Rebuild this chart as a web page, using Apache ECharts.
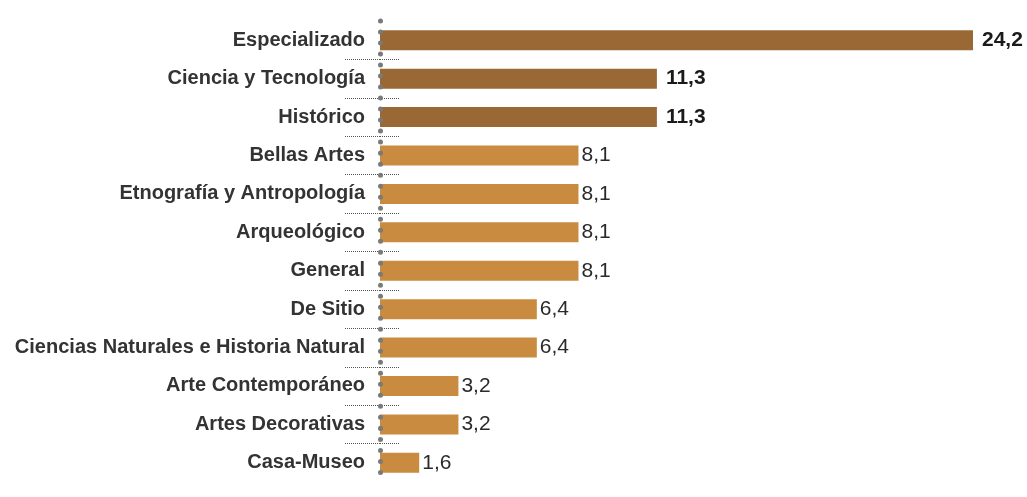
<!DOCTYPE html>
<html>
<head>
<meta charset="utf-8">
<script src="https://cdn.jsdelivr.net/npm/echarts@6/dist/echarts.min.js"></script>
<style>
  html, body { margin: 0; padding: 0; background: #fff; }
  #chart { width: 1027px; height: 497px; }
</style>
</head>
<body>
<div id="chart"></div>
<script>
// Datos del gráfico
var categorias = [
  'Especializado',
  'Ciencia y Tecnología',
  'Histórico',
  'Bellas Artes',
  'Etnografía y Antropología',
  'Arqueológico',
  'General',
  'De Sitio',
  'Ciencias Naturales e Historia Natural',
  'Arte Contemporáneo',
  'Artes Decorativas',
  'Casa-Museo'
];
var porcentajes = [24.2, 11.3, 11.3, 8.1, 8.1, 8.1, 8.1, 6.4, 6.4, 3.2, 3.2, 1.6];
// separadores entre categorías (posiciones en el eje)
var separadores = [0.5, 1.5, 2.5, 3.5, 4.5, 5.5, 6.5, 7.5, 8.5, 9.5, 10.5];

var FUENTE = '"Liberation Sans", Arial, sans-serif';
var OSCURO = '#9a6835';
var CLARO = '#c98b3f';

var chart = echarts.init(document.getElementById('chart'));

var datos = porcentajes.map(function (v) {
  var destacado = v >= 10;
  return {
    value: v,
    itemStyle: { color: destacado ? OSCURO : CLARO },
    label: {
      fontWeight: destacado ? 'bold' : 'normal',
      color: destacado ? '#1a1a1a' : '#2a2a2a',
      distance: destacado ? 9 : 3
    }
  };
});

var lineaPunteada = { color: '#555', width: 1, type: [1, 1] };

var option = {
  animation: false,
  grid: { left: 380, right: 54, top: 21, bottom: 15 },
  xAxis: {
    type: 'value',
    min: 0,
    max: 24.2,
    show: false
  },
  yAxis: [
    {
      type: 'category',
      data: categorias,
      inverse: true,
      position: 'left',
      z: 5,
      axisLine: {
        show: true,
        lineStyle: { color: '#7a7a7a', width: 5, type: [0.01, 11], cap: 'round' }
      },
      axisTick: { show: false },
      axisLabel: {
        fontFamily: FUENTE,
        fontSize: 20,
        fontWeight: 'bold',
        color: '#333',
        margin: 15
      }
    },
    {
      type: 'value',
      inverse: true,
      position: 'left',
      min: -0.5,
      max: 11.5,
      axisLine: { show: false },
      axisLabel: { show: false },
      splitLine: { show: false },
      axisTick: { show: true, length: 35, customValues: separadores, lineStyle: lineaPunteada }
    },
    {
      type: 'value',
      inverse: true,
      position: 'left',
      min: -0.5,
      max: 11.5,
      axisLine: { show: false },
      axisLabel: { show: false },
      splitLine: { show: false },
      axisTick: { show: true, inside: true, length: 20, customValues: separadores, lineStyle: lineaPunteada }
    }
  ],
  series: [
    {
      type: 'bar',
      yAxisIndex: 0,
      barWidth: 20,
      data: datos,
      label: {
        show: true,
        position: 'right',
        fontFamily: FUENTE,
        fontSize: 21,
        formatter: function (p) {
          return p.value.toFixed(1).replace('.', ',');
        }
      }
    }
  ]
};

chart.setOption(option);
</script>
</body>
</html>
